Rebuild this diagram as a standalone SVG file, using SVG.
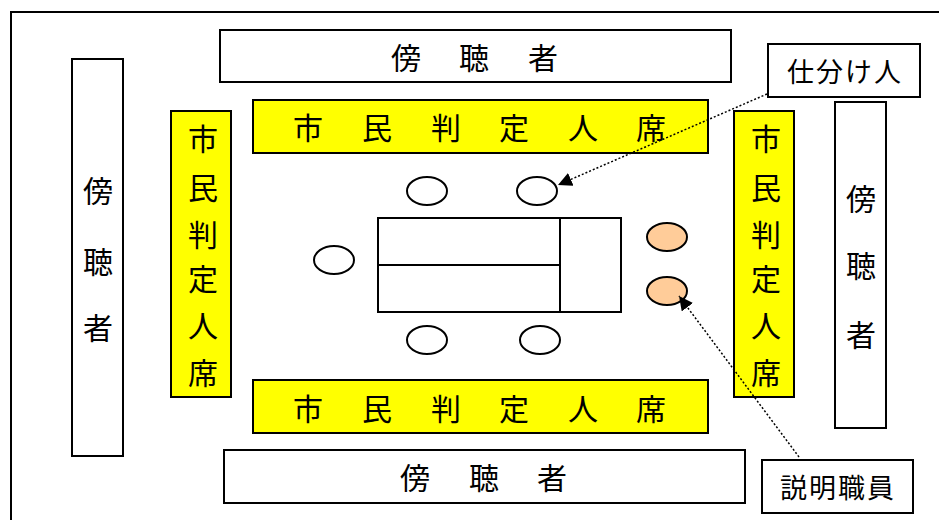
<svg xmlns="http://www.w3.org/2000/svg" width="939" height="520" viewBox="0 0 939 520">
<defs>
<style>
.box{fill:#fff;stroke:#000;stroke-width:2}
.seat{fill:#ffff00;stroke:#000;stroke-width:2}
.chair{fill:#fff;stroke:#000;stroke-width:2}
.staff{fill:#ffcc99;stroke:#000;stroke-width:2}
.tbl{fill:#fff;stroke:#000;stroke-width:2}
.lbl{font-family:"Noto Sans CJK JP","Noto Sans",sans-serif;font-size:30px;fill:#000;text-anchor:middle;dominant-baseline:central}
.call{font-family:"Noto Sans CJK JP","Noto Sans",sans-serif;font-size:27px;fill:#000;text-anchor:middle;dominant-baseline:central;letter-spacing:2px}
.conn{fill:none;stroke:#000;stroke-width:1.5;stroke-dasharray:2 2}
</style>
<marker id="arr" viewBox="0 0 10 10" refX="10" refY="5" markerWidth="14" markerHeight="14" markerUnits="userSpaceOnUse" orient="auto">
<path d="M0,0 L10,5 L0,10 z" fill="#000"/>
</marker>
</defs>
<rect x="0" y="0" width="939" height="520" fill="#fff"/>
<rect id="frame" x="11" y="12" width="940" height="520" fill="none" stroke="#000" stroke-width="2"/>

<g id="audience-top"><rect class="box" x="220" y="30" width="511" height="52"/><text class="lbl" x="406 474 543" y="56">傍聴者</text></g>
<g id="audience-bottom"><rect class="box" x="224" y="450" width="521" height="53"/><text class="lbl" x="415 484 552" y="476">傍聴者</text></g>
<g id="audience-left"><rect class="box" x="72" y="59" width="51" height="397"/><text class="lbl" x="98" y="189">傍</text><text class="lbl" x="98" y="260">聴</text><text class="lbl" x="98" y="326">者</text></g>
<g id="audience-right"><rect class="box" x="835" y="102" width="51" height="326"/><text class="lbl" x="861" y="197">傍</text><text class="lbl" x="861" y="264">聴</text><text class="lbl" x="861" y="333">者</text></g>

<g id="judges-top"><rect class="seat" x="253" y="100" width="455" height="53"/><text class="lbl" x="308 377 446 514 583 651" y="126">市民判定人席</text></g>
<g id="judges-bottom"><rect class="seat" x="253" y="380" width="455" height="53"/><text class="lbl" x="308 377 446 514 583 651" y="407">市民判定人席</text></g>
<g id="judges-left"><rect class="seat" x="171" y="111" width="60" height="286"/>
<text class="lbl" x="203" y="137">市</text><text class="lbl" x="203" y="186">民</text><text class="lbl" x="203" y="233">判</text><text class="lbl" x="203" y="277">定</text><text class="lbl" x="203" y="324">人</text><text class="lbl" x="203" y="371">席</text></g>
<g id="judges-right"><rect class="seat" x="734" y="111" width="60" height="286"/>
<text class="lbl" x="766" y="137">市</text><text class="lbl" x="766" y="186">民</text><text class="lbl" x="766" y="233">判</text><text class="lbl" x="766" y="277">定</text><text class="lbl" x="766" y="324">人</text><text class="lbl" x="766" y="371">席</text></g>

<g id="table"><rect class="tbl" x="378" y="218" width="243" height="94"/><line x1="560" y1="218" x2="560" y2="312" stroke="#000" stroke-width="2"/><line x1="378" y1="265" x2="560" y2="265" stroke="#000" stroke-width="2"/></g>

<g id="chair-tl"><ellipse class="chair" cx="427" cy="191" rx="20" ry="14"/></g>
<g id="chair-tr"><ellipse class="chair" cx="537" cy="191" rx="20" ry="14"/></g>
<g id="chair-l"><ellipse class="chair" cx="334" cy="260" rx="20" ry="14"/></g>
<g id="chair-bl"><ellipse class="chair" cx="427" cy="340" rx="20" ry="14"/></g>
<g id="chair-br"><ellipse class="chair" cx="540" cy="340" rx="20" ry="14"/></g>
<g id="staff-1"><ellipse class="staff" cx="667" cy="237" rx="20" ry="14"/></g>
<g id="staff-2"><ellipse class="staff" cx="667" cy="291" rx="20" ry="14"/></g>

<g id="callout-shiwake"><rect class="box" x="768" y="44" width="152" height="53"/><text class="call" x="845" y="70">仕分け人</text></g>
<g id="callout-setsumei"><rect class="box" x="762" y="460" width="151" height="53"/><text class="call" x="838" y="486">説明職員</text></g>

<g id="connectors">
<line class="conn" x1="767" y1="94" x2="558" y2="185" marker-end="url(#arr)"/>
<line class="conn" x1="799" y1="457" x2="679" y2="296" marker-end="url(#arr)"/>
</g>
</svg>
